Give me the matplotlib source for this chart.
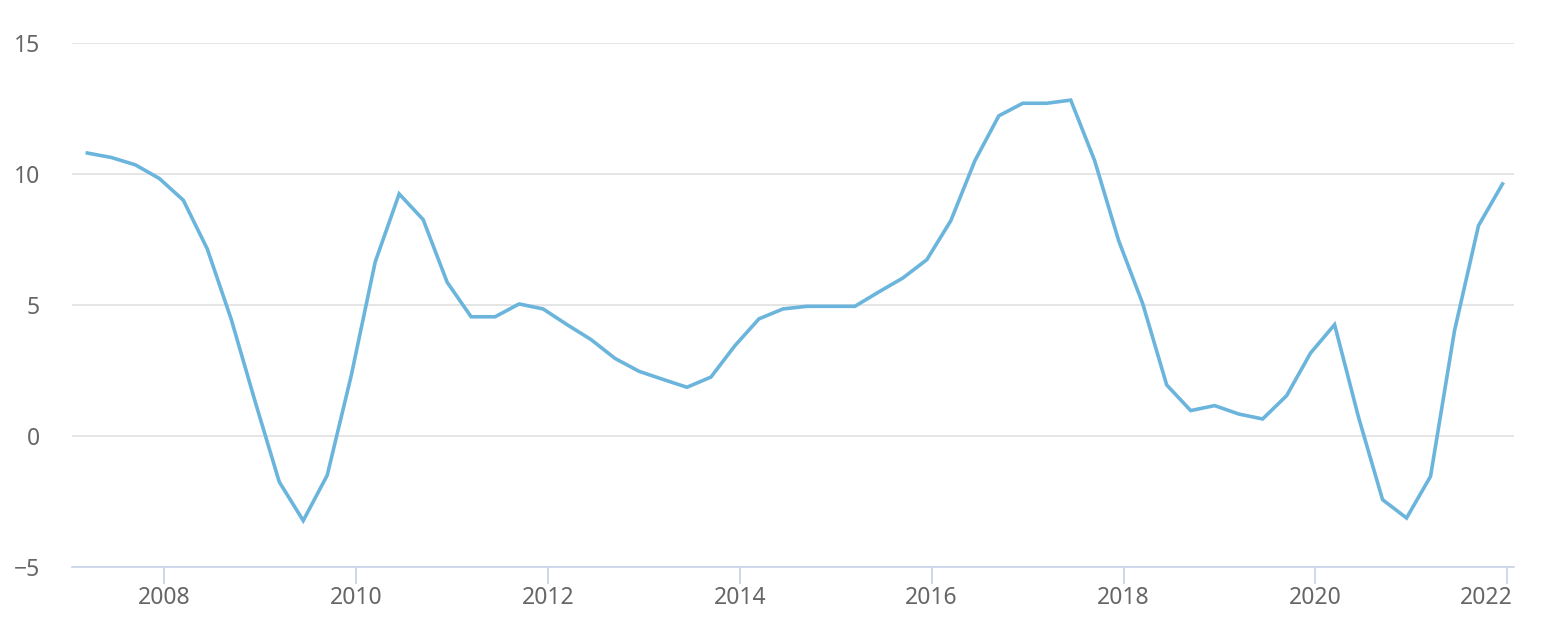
import matplotlib.pyplot as plt
import matplotlib.transforms as mtransforms
import numpy as np

plt.rcParams['font.family'] = ['Noto Sans', 'DejaVu Sans']

# quarterly series, 2007 Q1 .. 2021 Q4
first_year = 2007
values = [10.8, 10.63, 10.35, 9.83, 9.0, 7.14, 4.45, 1.3, -1.75, -3.23,
          -1.5, 2.3, 6.64, 9.24, 8.26, 5.87, 4.55, 4.55, 5.04, 4.85,
          4.25, 3.68, 2.96, 2.47, 2.16, 1.86, 2.25, 3.45, 4.47, 4.85,
          4.95, 4.95, 4.95, 5.5, 6.03, 6.73, 8.22, 10.5, 12.22, 12.7,
          12.7, 12.82, 10.5, 7.45, 5.05, 1.95, 0.97, 1.16, 0.84, 0.65,
          1.54, 3.17, 4.25, 0.71, -2.43, -3.13, -1.54, 4.02, 8.03, 9.62]
x_ticks = [2008, 2010, 2012, 2014, 2016, 2018, 2020, 2022]
y_ticks = [-5, 0, 5, 10, 15]

quarters = first_year + 0.2 + 0.25 * np.arange(len(values))

fig = plt.figure(figsize=(15.44, 6.34), dpi=100)
ax = fig.add_axes([72 / 1544, 1 - 567 / 634, 1442 / 1544, 524 / 634])

ax.plot(quarters, values, color='#6bb5dc', linewidth=2.6, solid_joinstyle='miter')

ax.set_xlim(2007.04, 2022.07)
ax.set_ylim(-5, 15)
ax.set_xticks(x_ticks)
ax.set_yticks(y_ticks)
ax.set_yticklabels(['\u22125', '0', '5', '10', '15'])

ax.grid(axis='y', color='#e3e3e3', linewidth=1.3)
ax.set_axisbelow(True)
for side in ['top', 'right', 'left']:
    ax.spines[side].set_visible(False)
ax.spines['bottom'].set_color('#ccd6eb')
ax.spines['bottom'].set_linewidth(1.3)

ax.tick_params(axis='y', length=0, pad=23, labelsize=16.5, labelcolor='#666666')
ax.tick_params(axis='x', length=12.5, width=1.3, color='#ccd6eb', pad=1.5,
               labelsize=16.5, labelcolor='#666666')

# last label kept inside the plot edge
last = ax.get_xticklabels()[-1]
last.set_horizontalalignment('right')
last.set_transform(last.get_transform() +
                   mtransforms.ScaledTranslation(5 / 100, 0, fig.dpi_scale_trans))

fig.savefig('out.png', dpi=100)
